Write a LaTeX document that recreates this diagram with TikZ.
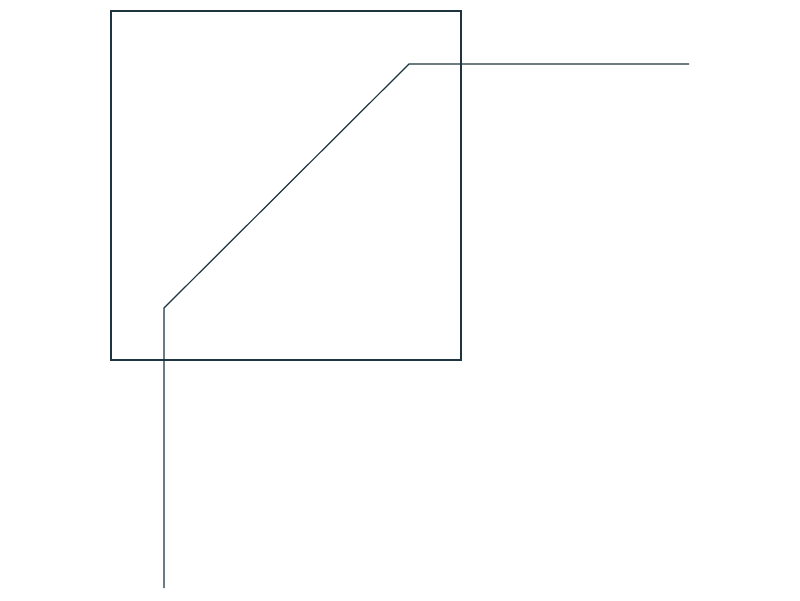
\documentclass[tikz,border=0pt]{standalone}
\usepackage{tikz}
\definecolor{inkline}{HTML}{1E3440}
\begin{document}
\begin{tikzpicture}[x=1pt,y=-1pt,inner sep=0pt,outer sep=0pt,line width=1.2pt,
frame/.style={draw=inkline,rectangle,minimum width=350pt,minimum height=349pt,line width=1.2pt}]
\useasboundingbox (0,0) rectangle (800,600);
\draw (286,185.5) node[frame] (box) {};
\coordinate (start) at (164,588);
\coordinate (bend1) at (164,308);
\coordinate (bend2) at (409,64);
\coordinate (stop) at (689,64);
\draw[inkline] (start) -- (bend1) -- (bend2) -- (stop);
\end{tikzpicture}
\end{document}
